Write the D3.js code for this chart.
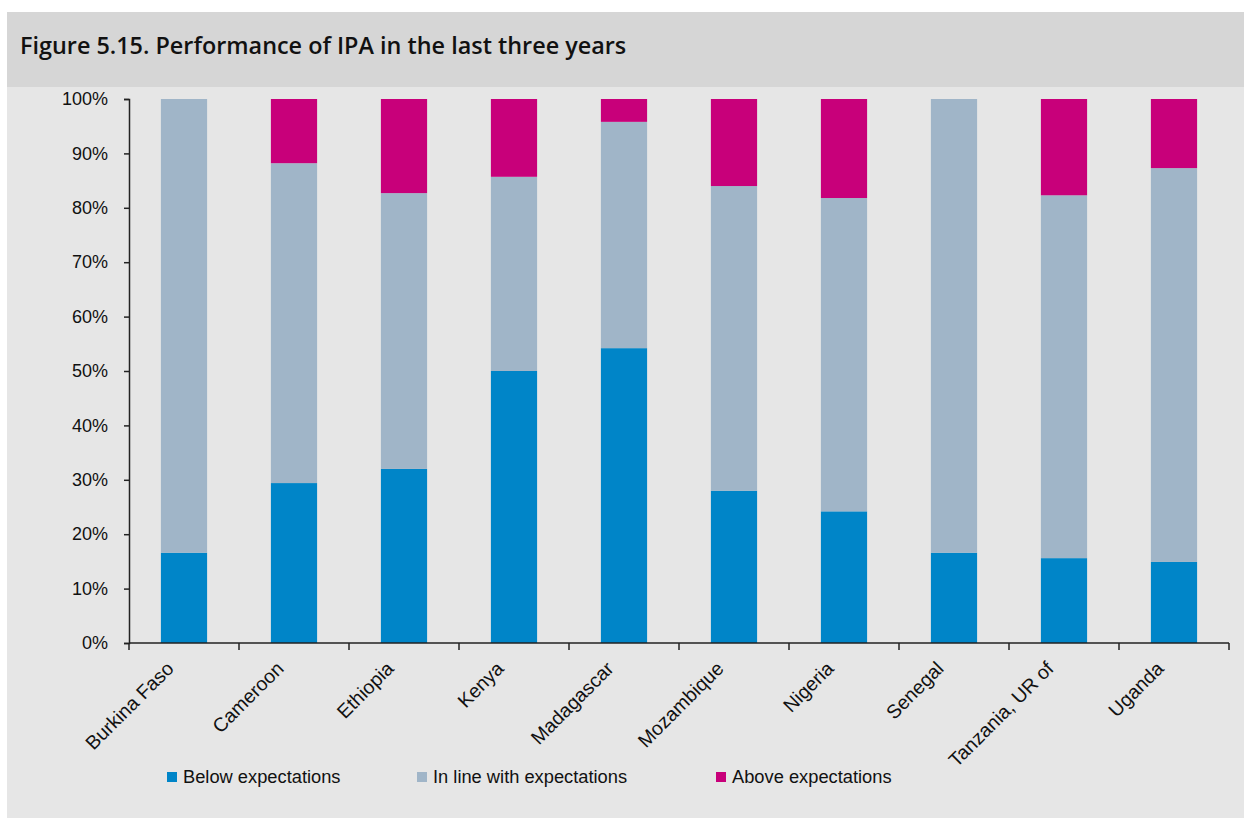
<!DOCTYPE html>
<html>
<head>
<meta charset="utf-8">
<script src="https://cdn.jsdelivr.net/npm/d3@7"></script>
<style>
  body { margin: 0; background: #fff; }
  text { font-family: "Liberation Sans", Arial, sans-serif; fill: #111; }
</style>
</head>
<body>
<div id="chart"></div>
<script>
const width = 1244,
  height = 818,
  margin = {top: 99, right: 15, bottom: 175, left: 129};

// data (shares, %)
const countries = ["Burkina Faso", "Cameroon", "Ethiopia", "Kenya", "Madagascar",
  "Mozambique", "Nigeria", "Senegal", "Tanzania, UR of", "Uganda"];
const below = [16.6, 29.4, 32.0, 50.0, 54.2, 28.0, 24.2, 16.6, 15.6, 14.9];
const inLine = [83.4, 58.8, 50.7, 35.7, 41.6, 56.0, 57.6, 83.4, 66.7, 72.4];
const above = [0, 11.8, 17.3, 14.3, 4.2, 16.0, 18.2, 0, 17.7, 12.7];
const seriesNames = ["Below expectations", "In line with expectations", "Above expectations"];
const yTicks = [0, 10, 20, 30, 40, 50, 60, 70, 80, 90, 100];

const colors = ["#0085c8", "#a0b5c8", "#c8007a"];

const data = countries.map((c, i) => ({
  group: c,
  [seriesNames[0]]: below[i],
  [seriesNames[1]]: inLine[i],
  [seriesNames[2]]: above[i]
}));

const svg = d3.select("#chart")
  .append("svg")
  .attr("width", width)
  .attr("height", height);

// backgrounds
svg.append("rect")
  .attr("x", 7).attr("y", 12)
  .attr("width", width - 7).attr("height", height - 12)
  .attr("fill", "#e6e6e6");
svg.append("rect")
  .attr("x", 7).attr("y", 12)
  .attr("width", width - 7).attr("height", 75)
  .attr("fill", "#d6d6d6");

svg.append("text")
  .attr("x", 20)
  .attr("y", 54)
  .style("font-family", "'Open Sans', sans-serif")
  .style("font-weight", 600)
  .style("font-size", "23.4px")
  .text("Figure 5.15. Performance of IPA in the last three years");

const plotBottom = 643;
const x = d3.scaleBand(countries, [margin.left, margin.left + 1100])
  .paddingInner(0.58)
  .paddingOuter(0.29);
const y = d3.scaleLinear([0, 100], [plotBottom, margin.top]);

const color = d3.scaleOrdinal(seriesNames, colors);
const stackedData = d3.stack().keys(seriesNames)(data);

svg.append("g")
  .selectAll("g")
  .data(stackedData)
  .join("g")
  .attr("fill", d => color(d.key))
  .selectAll("rect")
  .data(d => d)
  .join("rect")
  .attr("x", d => x(d.data.group))
  .attr("y", d => y(d[1]))
  .attr("height", d => y(d[0]) - y(d[1]))
  .attr("width", x.bandwidth());

// y axis
const yAxis = svg.append("g")
  .attr("transform", `translate(${margin.left},0)`)
  .call(d3.axisLeft(y).tickValues(yTicks).tickFormat(d => d + "%").tickSize(5).tickPadding(16));
yAxis.selectAll("text").style("font-size", "18px").attr("fill", "#111");
yAxis.select(".domain").attr("stroke", "#222").attr("stroke-width", 1.5);
yAxis.selectAll(".tick line").attr("stroke", "#222").attr("stroke-width", 1.5);

// x axis: ticks sit between categories
const xg = svg.append("g")
  .attr("transform", `translate(0,${plotBottom})`);
xg.append("line")
  .attr("x1", margin.left).attr("x2", margin.left + 1100)
  .attr("stroke", "#222").attr("stroke-width", 1.5);
const step = x.step();
xg.selectAll(".xtick")
  .data(d3.range(countries.length + 1))
  .join("line")
  .attr("class", "xtick")
  .attr("x1", i => margin.left + i * step)
  .attr("x2", i => margin.left + i * step)
  .attr("y1", 0).attr("y2", 7)
  .attr("stroke", "#222").attr("stroke-width", 1.5);

xg.selectAll(".xlabel")
  .data(countries)
  .join("text")
  .attr("class", "xlabel")
  .attr("text-anchor", "end")
  .attr("transform", d => `translate(${x(d) + x.bandwidth() / 2 - 14},${22}) rotate(-45)`)
  .attr("dy", "0.35em")
  .style("font-size", "19.5px")
  .text(d => d);

// legend
const legendX = [167, 417, 716];
const legend = svg.selectAll(".legend-group")
  .data(seriesNames)
  .join("g")
  .attr("class", "legend-group")
  .attr("transform", (d, i) => `translate(${legendX[i]},772)`);
legend.append("rect")
  .attr("width", 10).attr("height", 10)
  .attr("fill", d => color(d));
legend.append("text")
  .attr("x", 16).attr("y", 11)
  .style("font-size", "18.3px")
  .text(d => d);
</script>
</body>
</html>
